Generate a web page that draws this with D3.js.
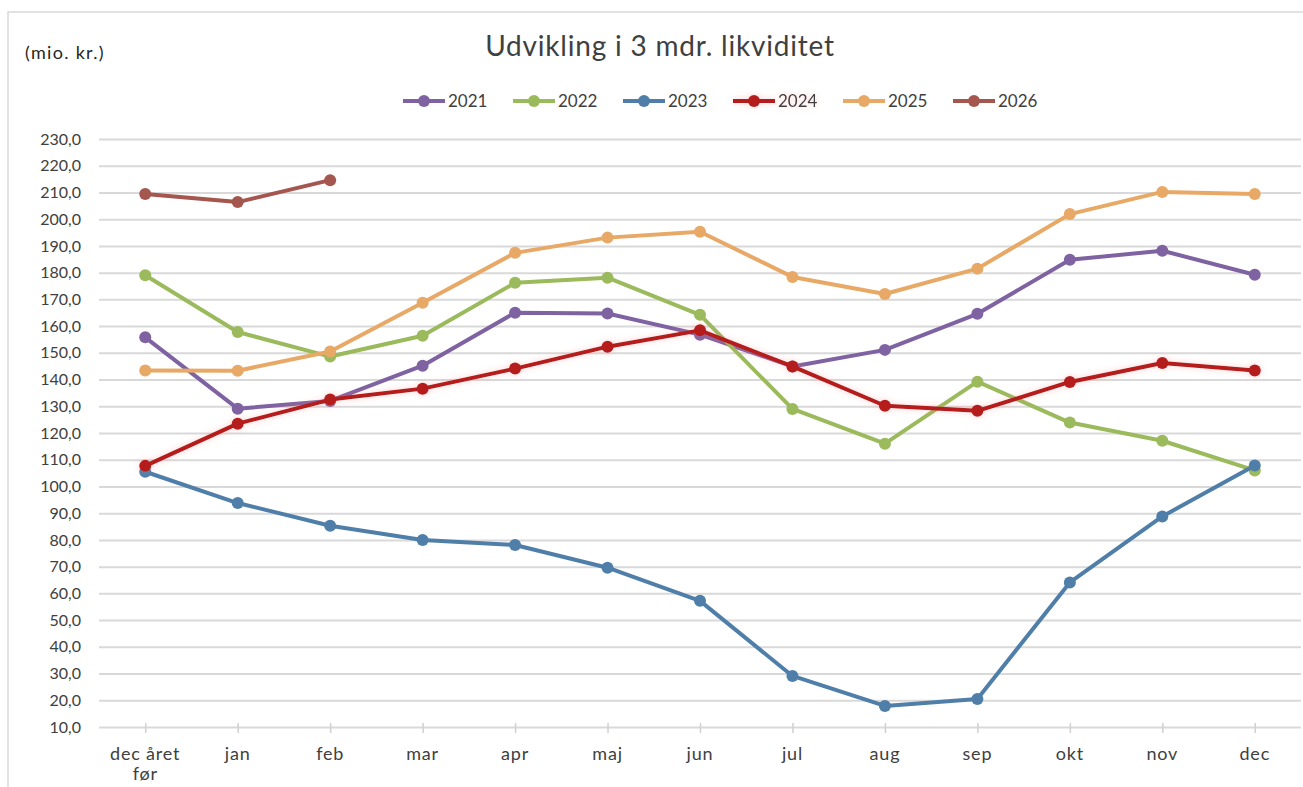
<!DOCTYPE html>
<html>
<head>
<meta charset="utf-8">
<script src="https://cdn.jsdelivr.net/npm/d3@7"></script>
<style>
  body { margin: 0; background: #fff; }
  svg { display: block; font-family: Lato, "Noto Sans", sans-serif; }
</style>
</head>
<body>
<svg></svg>
<script>
var width = 1303;
var height = 787;

var months = ['dec året før', 'jan', 'feb', 'mar', 'apr', 'maj', 'jun', 'jul', 'aug', 'sep', 'okt', 'nov', 'dec'];
var yTicks = [10, 20, 30, 40, 50, 60, 70, 80, 90, 100, 110, 120, 130, 140, 150, 160, 170, 180, 190, 200, 210, 220, 230];

var v2021 = [155.8, 129.1, 132.0, 145.2, 165.0, 164.7, 156.8, 144.9, 151.1, 164.6, 184.8, 188.2, 179.2];
var v2022 = [179.0, 157.8, 148.6, 156.4, 176.2, 178.1, 164.2, 129.0, 116.0, 139.2, 123.9, 117.1, 106.0];
var v2023 = [105.5, 93.8, 85.3, 80.0, 78.1, 69.6, 57.2, 29.1, 17.9, 20.5, 64.1, 88.8, 107.8];
var v2024 = [107.7, 123.5, 132.5, 136.6, 144.1, 152.3, 158.4, 144.9, 130.2, 128.3, 139.1, 146.2, 143.4];
var v2025 = [143.4, 143.3, 150.5, 168.7, 187.4, 193.1, 195.3, 178.4, 172.0, 181.5, 201.9, 210.2, 209.4];
var v2026 = [209.4, 206.4, 214.6];

var years = ['2021', '2022', '2023', '2024', '2025', '2026'];
var colors = ['#7f62a1', '#9aba5c', '#4f7fa9', '#b51d1d', '#e8a866', '#a5564e'];
var seriesValues = [v2021, v2022, v2023, v2024, v2025, v2026];

var svg = d3.select('svg').attr('width', width).attr('height', height);

var defs = svg.append('defs');
var glow = defs.append('filter').attr('id', 'redglow')
  .attr('x', '-5%').attr('y', '-20%').attr('width', '110%').attr('height', '140%');
glow.append('feGaussianBlur').attr('in', 'SourceGraphic').attr('stdDeviation', 3).attr('result', 'b');
glow.append('feColorMatrix').attr('in', 'b').attr('type', 'matrix')
  .attr('values', '0 0 0 0 1  0 0 0 0 0.2  0 0 0 0 0.2  0 0 0 0.35 0').attr('result', 'g');
var merge = glow.append('feMerge');
merge.append('feMergeNode').attr('in', 'g');
merge.append('feMergeNode').attr('in', 'SourceGraphic');

// chart frame
svg.append('rect')
  .attr('x', 8).attr('y', 12)
  .attr('width', 1400).attr('height', 900)
  .attr('fill', 'none').attr('stroke', '#d9d9d9').attr('stroke-width', 1.5);

var xScale = d3.scalePoint().domain(months).range([99, 1301]).padding(0.5);
var yScale = d3.scaleLinear().domain([10, 230]).range([727, 139]);

// gridlines + y labels
var yAxis = d3.axisLeft(yScale)
  .tickValues(yTicks)
  .tickSize(-(1301 - 99))
  .tickPadding(18)
  .tickFormat(function (d) { return d3.format('.1f')(d).replace('.', ','); });

var gy = svg.append('g').attr('transform', 'translate(99,0)').call(yAxis);
gy.select('.domain').remove();
gy.selectAll('.tick line').attr('stroke', '#d9d9d9').attr('stroke-width', 2);
gy.selectAll('.tick text')
  .attr('fill', '#404040')
  .attr('font-size', 16)
  .attr('font-family', 'Lato, "Noto Sans", sans-serif');

// x axis ticks and labels
var xAxis = d3.axisBottom(xScale).tickSize(6).tickSizeOuter(0).tickFormat('');
var gx = svg.append('g').attr('transform', 'translate(0,727)').call(xAxis);
gx.select('.domain').remove();
gx.selectAll('.tick line').attr('stroke', '#d0d0d0').attr('stroke-width', 1.5).attr('y1', -4);

svg.append('g').selectAll('text')
  .data(months)
  .enter()
  .append('text')
  .attr('x', (d) => xScale(d))
  .attr('y', 760)
  .attr('text-anchor', 'middle')
  .attr('font-size', 18)
  .attr('letter-spacing', 0.8)
  .attr('fill', '#404040')
  .each(function (d) {
    var t = d3.select(this);
    if (d === 'dec året før') {
      t.append('tspan').attr('x', xScale(d)).text('dec året');
      t.append('tspan').attr('x', xScale(d)).attr('dy', 20).text('før');
    } else {
      t.text(d);
    }
  });

// lines
var line = d3.line()
  .x((d, i) => xScale(months[i]))
  .y((d) => yScale(d));

var series = svg.append('g').selectAll('g')
  .data(seriesValues)
  .enter()
  .append('g')
  .attr('filter', (d, i) => years[i] === '2024' ? 'url(#redglow)' : null);

series.append('path')
  .attr('d', (d) => line(d))
  .attr('fill', 'none')
  .attr('stroke', (d, i) => colors[i])
  .attr('stroke-width', 4)
  .attr('stroke-linejoin', 'round')
  .attr('stroke-linecap', 'round');

series.each(function (vals, si) {
  d3.select(this).selectAll('circle')
    .data(vals)
    .enter()
    .append('circle')
    .attr('cx', (d, i) => xScale(months[i]))
    .attr('cy', (d) => yScale(d))
    .attr('r', 6)
    .attr('fill', colors[si]);
});

// title
svg.append('text')
  .attr('x', 660)
  .attr('y', 56)
  .attr('text-anchor', 'middle')
  .attr('font-size', 28)
  .attr('letter-spacing', 0.8)
  .attr('fill', '#404040')
  .text('Udvikling i 3 mdr. likviditet');

svg.append('text')
  .attr('x', 25)
  .attr('y', 59)
  .attr('font-size', 18)
  .attr('letter-spacing', 1.3)
  .attr('fill', '#262626')
  .text('(mio. kr.)');

// legend
var legend = svg.append('g').selectAll('g')
  .data(years)
  .enter()
  .append('g')
  .attr('transform', (d, i) => 'translate(' + (403 + i * 110) + ',101)')
  .attr('filter', (d) => d === '2024' ? 'url(#redglow)' : null);

legend.append('line')
  .attr('x1', 0).attr('x2', 42)
  .attr('stroke', (d, i) => colors[i])
  .attr('stroke-width', 4);
legend.append('circle')
  .attr('cx', 21).attr('r', 6)
  .attr('fill', (d, i) => colors[i]);
legend.append('text')
  .attr('x', 45)
  .attr('dy', '0.35em')
  .attr('font-size', 17)
  .attr('fill', '#404040')
  .text((d) => d);
</script>
</body>
</html>
